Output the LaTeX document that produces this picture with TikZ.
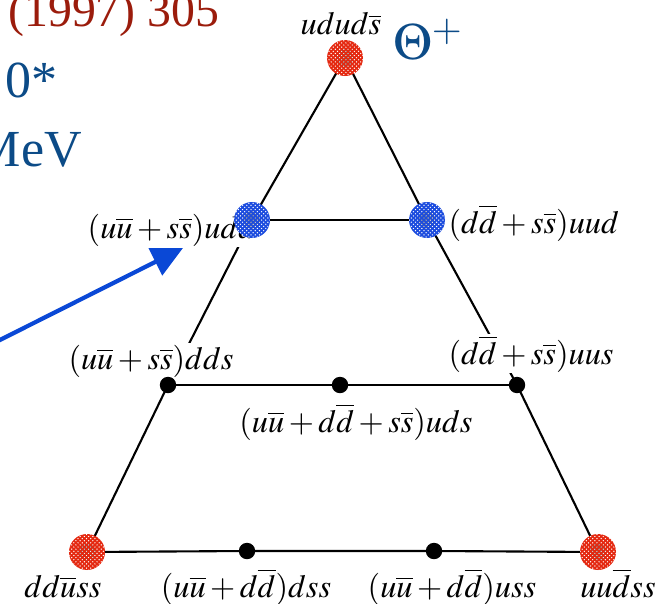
\documentclass[tikz,border=0pt]{standalone}
\usepackage{amsmath,amssymb}
\usepackage{mathptmx}
\usepackage{fontspec}
\setmainfont{Liberation Serif}
\usepackage{xcolor}
\usepackage{tikz}
\usetikzlibrary{arrows.meta,patterns}

\definecolor{refred}{RGB}{155,28,12}
\definecolor{refblue}{RGB}{12,75,135}
\definecolor{blobred}{RGB}{228,40,16}
\definecolor{blobblue}{RGB}{28,76,222}
\definecolor{arrblue}{RGB}{10,72,214}

\begin{document}
\begin{tikzpicture}[x=0.025cm,y=-0.025cm,
  lbl/.style={font=\fontsize{23}{27}\selectfont,inner sep=1pt,fill=white},
  wire/.style={line width=1.5pt},
  quark/.style={circle,fill=black,inner sep=0pt,minimum size=0.41cm},
  blob/.style={circle,inner sep=0pt,minimum size=0.9cm,fill=#1,
    postaction={pattern=crosshatch dots,pattern color=white},
    path picture={\fill[pattern=crosshatch dots,pattern color=black]
      (path picture bounding box.center) circle (0.22cm);}}]
  \useasboundingbox (0,0) rectangle (671,604);
  \clip (0,0) rectangle (671,604);
  \coordinate (top)  at (345,58);
  \coordinate (bluL) at (252,220);
  \coordinate (bluR) at (427,220);
  \coordinate (dds)  at (168,385);
  \coordinate (uds)  at (340,385);
  \coordinate (uus)  at (517,385);
  \coordinate (ddu)  at (87,552);
  \coordinate (dss)  at (247,551);
  \coordinate (uss)  at (434,551);
  \coordinate (uud)  at (598,552);
  \coordinate (arrtail) at (-20,350);
  \coordinate (arrtip)  at (183,248);
  \node[anchor=base west,inner sep=0pt,text=refred,font=\fontsize{34}{40}\selectfont] (year) at (8,27) {(1997) 305};
  \node[anchor=base west,inner sep=0pt,text=refblue,font=\fontsize{37}{44}\selectfont] (star) at (5,98) {0*};
  \node[anchor=base east,inner sep=0pt,text=refblue,font=\fontsize{37}{44}\selectfont] (mev) at (82,166) {MeV};
  \draw[line width=3pt,arrblue,-{Triangle[length=22pt,width=21pt]}] (arrtail) -- (arrtip);
  \draw[wire] (top) -- (bluL) -- (dds) -- (ddu) -- (dss) -- (uss) -- (uud) -- (uus) -- (bluR) -- (top);
  \draw[wire] (bluL) -- (bluR);
  \draw[wire] (dds) -- (uds) -- (uus);
  \node[lbl,anchor=base] (lt) at (341,35) {$udud\overline{s}$};
  \node[anchor=base west,inner sep=0pt,text=refblue,font=\fontsize{37}{44}\selectfont] (theta) at (393,60) {$\Theta^{+}$};
  \node[lbl,anchor=base east] (l1) at (258,238) {$(u\overline{u}+s\overline{s})udd$};
  \node[lbl,anchor=base west] (l2) at (447,233) {$(d\overline{d}+s\overline{s})uud$};
  \node[lbl,anchor=base] (l3) at (151,369) {$(u\overline{u}+s\overline{s})dds$};
  \node[lbl,anchor=base] (l4) at (531,364) {$(d\overline{d}+s\overline{s})uus$};
  \node[lbl,anchor=base] (l5) at (356,432) {$(u\overline{u}+d\overline{d}+s\overline{s})uds$};
  \node[lbl,anchor=base] (l6) at (63,597) {$dd\overline{u}ss$};
  \node[lbl,anchor=base] (l7) at (246,597) {$(u\overline{u}+d\overline{d})dss$};
  \node[lbl,anchor=base] (l8) at (452,597) {$(u\overline{u}+d\overline{d})uss$};
  \node[lbl,anchor=base] (l9) at (618,597) {$uu\overline{d}ss$};
  \node[blob=blobred] (btop) at (top) {};
  \node[blob=blobblue] (bbluL) at (bluL) {};
  \node[blob=blobblue] (bbluR) at (bluR) {};
  \node[blob=blobred] (bddu) at (ddu) {};
  \node[blob=blobred] (buud) at (uud) {};
  \node[quark] (qdds) at (dds) {};
  \node[quark] (quds) at (uds) {};
  \node[quark] (quus) at (uus) {};
  \node[quark] (qdss) at (dss) {};
  \node[quark] (quss) at (uss) {};
\end{tikzpicture}
\end{document}
